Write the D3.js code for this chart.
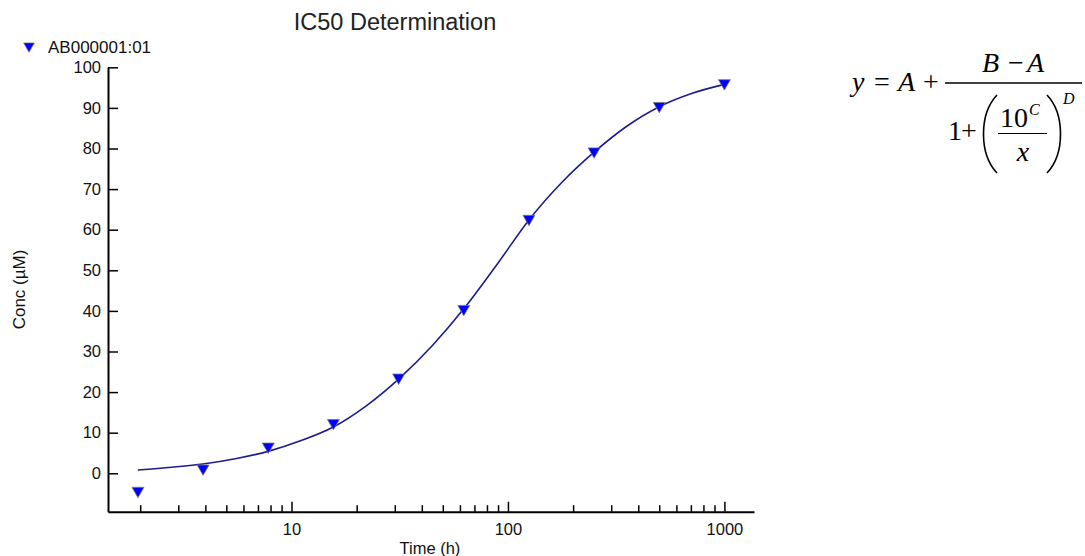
<!DOCTYPE html>
<html>
<head>
<meta charset="utf-8">
<script src="https://cdn.jsdelivr.net/npm/d3@7"></script>
<style>
  html, body { margin: 0; padding: 0; background: #fff; }
  svg { display: block; font-family: "Liberation Sans", Arial, sans-serif; }
  .axis text { font-size: 16.5px; fill: #111; }
  .axis path, .axis line { stroke: #000; }
  .formula text { font-family: "Liberation Serif", "Times New Roman", serif; fill: #000; }
</style>
</head>
<body>
<div id="chart-container"></div>
<script>
// measured points (time in h, conc in uM)
const dataX = [1.953, 3.906, 7.8125, 15.625, 31.25, 62.5, 125, 250, 500, 1000];
const dataY = [-4.3, 1.2, 6.6, 12.4, 23.6, 40.5, 62.7, 79.3, 90.5, 96.1];

// fitted curve
const curveX = [1.95, 2.8, 3.9, 5.5, 7.8, 11, 15.6, 22, 31.25, 45, 62.5, 90, 125, 180, 250, 350, 500, 700, 1000];
const curveY = [0.8, 1.5, 2.3, 3.6, 5.4, 8.0, 11.4, 16.5, 23.2, 31.6, 40.5, 51.8, 62.4, 72.0, 79.1, 85.3, 90.3, 93.5, 95.8];

// axes
const xMajorTicks = [10, 100, 1000];
const xMinorTicks = [2, 3, 4, 5, 6, 7, 8, 9, 20, 30, 40, 50, 60, 70, 80, 90, 200, 300, 400, 500, 600, 700, 800, 900];
const yTicks = [0, 10, 20, 30, 40, 50, 60, 70, 80, 90, 100];
const xDomain = [1.42, 1370];
const yDomain = [-9.46, 100];

const seriesName = "AB000001:01";
const title = "IC50 Determination";

const [svg, w, h, padding] = renderSvg();
const [x, y] = renderAxes();
renderCurve();
renderPoints();
renderTitle();
renderLegend();
renderFormula();

function renderSvg() {
  const padding = { top: 67.3, right: 331, bottom: 44.3, left: 108 };
  const w = 1085 - padding.left - padding.right;
  const h = 556 - padding.top - padding.bottom;
  const svg = d3
    .select("#chart-container")
    .append("svg")
    .attr("width", 1085)
    .attr("height", 556);
  return [svg, w, h, padding];
}

function renderAxes() {
  const x = d3.scaleLog().domain(xDomain).range([0, w]);
  const y = d3.scaleLinear().domain(yDomain).range([h, 0]);

  // x axis, ticks pointing inward
  const allX = xMinorTicks.concat(xMajorTicks).sort((a, b) => a - b);
  const xAxis = d3
    .axisBottom(x)
    .tickValues(allX)
    .tickSize(-6.5)
    .tickSizeOuter(0)
    .tickPadding(12)
    .tickFormat((d) => (xMajorTicks.includes(d) ? d3.format("d")(d) : ""));
  const gx = svg
    .append("g")
    .attr("class", "axis")
    .attr("transform", `translate(${padding.left}, ${padding.top + h})`)
    .call(xAxis);
  gx.selectAll(".tick line")
    .attr("y2", (d) => (xMajorTicks.includes(d) ? -10 : -6.5))
    .attr("stroke-width", 1.5);
  gx.select(".domain").attr("stroke-width", 2);

  // y axis
  const yAxis = d3
    .axisLeft(y)
    .tickValues(yTicks)
    .tickSize(-10)
    .tickSizeOuter(0)
    .tickPadding(7);
  const gy = svg
    .append("g")
    .attr("class", "axis")
    .attr("transform", `translate(${padding.left}, ${padding.top})`)
    .call(yAxis);
  gy.selectAll(".tick line").attr("stroke-width", 1.5);
  gy.select(".domain").attr("stroke-width", 2);

  // axis titles
  svg
    .append("text")
    .attr("x", padding.left + x(100) - 78)
    .attr("y", 554)
    .attr("text-anchor", "middle")
    .attr("font-size", "16.5px")
    .attr("fill", "#111")
    .text("Time (h)");

  svg
    .append("text")
    .attr("transform", `translate(25, ${padding.top + h / 2}) rotate(-90)`)
    .attr("text-anchor", "middle")
    .attr("font-size", "17px")
    .attr("fill", "#111")
    .text("Conc (\u00b5M)");

  return [x, y];
}

function renderCurve() {
  const line = d3
    .line()
    .x((d) => padding.left + x(d[0]))
    .y((d) => padding.top + y(d[1]))
    .curve(d3.curveMonotoneX);
  svg
    .append("path")
    .datum(d3.zip(curveX, curveY))
    .attr("d", line)
    .attr("fill", "none")
    .attr("stroke", "#1c1c8e")
    .attr("stroke-width", 1.6);
}

function renderPoints() {
  const tri = d3.symbol().type(d3.symbolTriangle).size(62);
  svg
    .selectAll(".point")
    .data(d3.zip(dataX, dataY))
    .enter()
    .append("path")
    .attr("class", "point")
    .attr("d", tri)
    .attr(
      "transform",
      (d) => `translate(${padding.left + x(d[0])}, ${padding.top + y(d[1])}) rotate(180)`
    )
    .attr("fill", "#0000ff")
    .attr("stroke", "#7a7a7a")
    .attr("stroke-width", 0.8);
}

function renderTitle() {
  svg
    .append("text")
    .attr("x", 395)
    .attr("y", 30)
    .attr("text-anchor", "middle")
    .attr("font-size", "23.5px")
    .attr("fill", "#222")
    .text(title);
}

function renderLegend() {
  const tri = d3.symbol().type(d3.symbolTriangle).size(50);
  svg
    .append("path")
    .attr("d", tri)
    .attr("transform", "translate(29, 46) rotate(180)")
    .attr("fill", "#0000ff")
    .attr("stroke", "#7a7a7a")
    .attr("stroke-width", 0.7);
  svg
    .append("text")
    .attr("x", 48)
    .attr("y", 53)
    .attr("font-size", "17px")
    .attr("fill", "#111")
    .text(seriesName);
}

function renderFormula() {
  const g = svg.append("g").attr("class", "formula");
  const t = (txt, px, py, size, italic, anchor) =>
    g
      .append("text")
      .attr("x", px)
      .attr("y", py)
      .attr("font-size", size + "px")
      .attr("font-style", italic ? "italic" : "normal")
      .attr("text-anchor", anchor || "start")
      .text(txt);

  // y = A +
  t("y", 852, 91, 28, true);
  t("=", 874, 91, 28, false);
  t("A", 898, 91, 28, true);
  t("+", 923, 91, 28, false);

  // numerator
  t("B", 982, 72, 28, true);
  t("\u2212", 1008, 72, 28, false);
  t("A", 1027, 72, 28, true);

  // main fraction bar
  g.append("line")
    .attr("x1", 945).attr("x2", 1082)
    .attr("y1", 83).attr("y2", 83)
    .attr("stroke", "#000").attr("stroke-width", 1.4);

  // denominator
  t("1", 948, 140, 28, false);
  t("+", 961, 140, 28, false);

  // parentheses
  g.append("path")
    .attr("d", "M997,95 C979,114 979,154 997,173")
    .attr("fill", "none").attr("stroke", "#000").attr("stroke-width", 1.6);
  g.append("path")
    .attr("d", "M1047,95 C1065,114 1065,154 1047,173")
    .attr("fill", "none").attr("stroke", "#000").attr("stroke-width", 1.6);

  // inner fraction
  t("10", 1000, 127, 28, false);
  t("C", 1029, 115, 16, true);
  g.append("line")
    .attr("x1", 998).attr("x2", 1047)
    .attr("y1", 133.5).attr("y2", 133.5)
    .attr("stroke", "#000").attr("stroke-width", 1.2);
  t("x", 1023, 161, 28, true, "middle");

  // exponent
  t("D", 1063, 104, 16, true);
}
</script>
</body>
</html>
